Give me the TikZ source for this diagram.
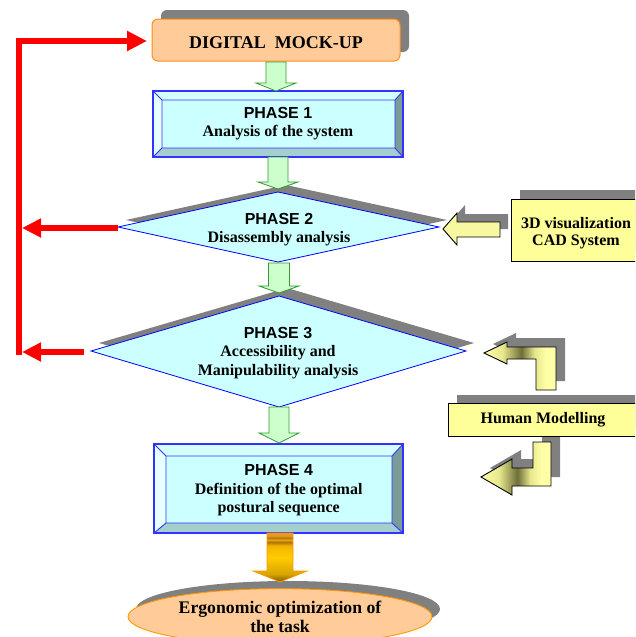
\documentclass[tikz,border=0pt]{standalone}
\usepackage{fontspec}
\setmainfont{Liberation Serif}
\newfontfamily\arialf{Liberation Sans}
\usetikzlibrary{arrows.meta,shapes.geometric}
\definecolor{shd}{HTML}{808080}
\definecolor{dmufill}{HTML}{FFCC99}
\definecolor{dmuline}{HTML}{FF8C1A}
\definecolor{grfill}{HTML}{CCFFCC}
\definecolor{grline}{HTML}{339933}
\definecolor{cyanfill}{HTML}{CCFFFF}
\definecolor{bluel}{HTML}{0000FF}
\definecolor{boxline}{HTML}{3333FF}
\definecolor{bvtop}{HTML}{D4FFFF}
\definecolor{bvleft}{HTML}{E8FFFF}
\definecolor{bvright}{HTML}{7A9C98}
\definecolor{bvbot}{HTML}{A3CFCF}
\definecolor{redc}{HTML}{FF0000}
\definecolor{yfill}{HTML}{FFFF99}
\definecolor{yarrow}{HTML}{F8F8A0}
\definecolor{gA}{HTML}{E89A20}
\definecolor{gB}{HTML}{A87010}
\definecolor{gC}{HTML}{F2B400}
\definecolor{gD}{HTML}{FFCC00}
\definecolor{gE}{HTML}{D8A400}
\definecolor{gF}{HTML}{7A5800}
\definecolor{lyA}{HTML}{FFFFA8}
\definecolor{lyB}{HTML}{E6E68C}
\definecolor{lyD}{HTML}{6E6E3A}
\definecolor{ergoline}{HTML}{FF9900}
\pgfdeclareverticalshading{goldshade}{100bp}{color(0bp)=(gF); color(25bp)=(gF); color(33bp)=(gE); color(50bp)=(gD); color(62bp)=(gC); color(66bp)=(gB); color(68bp)=(gC); color(70bp)=(gB); color(72bp)=(gA); color(75bp)=(gA); color(100bp)=(gA)}
\pgfdeclarehorizontalshading{lshade}{100bp}{color(0bp)=(lyA); color(25bp)=(lyA); color(38bp)=(lyB); color(51bp)=(lyD); color(60bp)=(lyB); color(68bp)=(lyA); color(75bp)=(lyA); color(100bp)=(lyA)}
\newcommand\garrow[6]{%
  \draw[greenarrow] ({#1-#2},#4) -- ({#1+#2},#4) -- ({#1+#2},#5) -- ({#1+#3},#5) -- (#1,#6) -- ({#1-#3},#5) -- ({#1-#2},#5) -- cycle;}
\newcommand\bevelbox[8]{%
  \fill[bvtop] (#1,#2) -- (#3,#2) -- (#7,#6) -- (#5,#6) -- cycle;
  \fill[bvleft] (#1,#2) -- (#5,#6) -- (#5,#8) -- (#1,#4) -- cycle;
  \fill[bvright] (#3,#2) -- (#3,#4) -- (#7,#8) -- (#7,#6) -- cycle;
  \fill[bvbot] (#1,#4) -- (#5,#8) -- (#7,#8) -- (#3,#4) -- cycle;
  \fill[cyanfill] (#5,#6) rectangle (#7,#8);
  \draw[boxline, line width=0.9pt] (#5,#6) rectangle (#7,#8)
     (#1,#2) -- (#5,#6) (#3,#2) -- (#7,#6) (#1,#4) -- (#5,#8) (#3,#4) -- (#7,#8);
  \draw[boxline, line width=1.4pt] (#1,#2) rectangle (#3,#4);}
\begin{document}
\begin{tikzpicture}[x=1pt,y=-1pt,line join=miter,
  greenarrow/.style={fill=grfill, draw=grline, line width=0.8pt},
  phasediam/.style={fill=cyanfill, draw=bluel, line width=0.8pt},
  redline/.style={draw=redc, line width=6pt},
  ybox/.style={fill=yfill, draw=black, line width=0.9pt},
  yarr/.style={draw=black, line width=0.9pt},
  txt/.style={inner sep=0pt, align=center, font=\fontsize{16}{18}\selectfont\bfseries}]
\useasboundingbox (0,0) rectangle (635,637);
\clip (0,0) rectangle (635,637);

% ---- shadows
\fill[shd, rounded corners=6pt] (161,10) rectangle (409,52);
\begin{scope}[shift={(8,-7)}]
  \fill[shd] (118,227) -- (278,192) -- (439,227) -- (278,262) -- cycle;
\end{scope}
\begin{scope}[shift={(8,-8)}]
  \fill[shd] (91,351) -- (279,296) -- (466,351) -- (279,407) -- cycle;
\end{scope}
\fill[shd] (520,190) rectangle (654,252);
\fill[shd] (457,395) rectangle (654,428);
\begin{scope}[shift={(8,-8)}]
  \fill[shd] (443,229) -- (457,213) -- (457,222) -- (500,222) -- (500,237) -- (457,237) -- (457,245) -- cycle;
\end{scope}
\begin{scope}[shift={(9,-9)}]
  \fill[shd] (484,353) -- (507,342) -- (507,347) -- (556,347) -- (556,390) -- (536,390) -- (536,359) -- (507,359) -- (507,364) -- cycle;
  \fill[shd] (481,477) -- (512,459) -- (512,468) -- (533,468) -- (533,442) -- (551,442) -- (551,486) -- (512,486) -- (512,495) -- cycle;
\end{scope}
\fill[shd] (288,609) ellipse [x radius=152pt, y radius=28pt];

% ---- digital mock-up
\node[draw=dmuline, fill=dmufill, rounded corners=6pt, line width=1pt,
  minimum width=248pt, minimum height=42pt, inner sep=0pt,
  text height=16.6pt, text depth=0pt,
  font=\fontsize{18}{20}\selectfont\bfseries] (dmu) at (276,40) {DIGITAL\ \ MOCK-UP};

% ---- phase 1
\bevelbox{153}{91}{403}{157}{162}{100}{395}{148}
\node[txt] (ph1) at (278,124) {{\arialf PHASE 1}\\Analysis of the system};

% ---- phase 2
\draw[phasediam] (118,227) -- (278,192) -- (439,227) -- (278,262) -- cycle;
\coordinate (p2W) at (118,228);
\node[txt] (ph2) at (279,230) {{\arialf PHASE 2}\\Disassembly analysis};

% ---- phase 3
\draw[phasediam] (91,351) -- (279,296) -- (466,351) -- (279,407) -- cycle;
\coordinate (p3W) at (84,352);
\node[txt, font=\fontsize{16}{18.7}\selectfont\bfseries] (ph3) at (278,353) {{\arialf PHASE 3}\\Accessibility and\\Manipulability analysis};

% ---- phase 4
\bevelbox{154}{444}{403}{533}{166}{456}{392}{523}
\node[txt, font=\fontsize{16}{18.3}\selectfont\bfseries] (ph4) at (278.7,490.4) {{\arialf PHASE 4}\\Definition of the optimal\\postural sequence};

% ---- ergonomic ellipse
\node[ellipse, draw=ergoline, fill=dmufill, line width=0.9pt, minimum width=304pt,
  minimum height=56pt, inner sep=0pt, align=center,
  font=\fontsize{17.7}{19}\selectfont\bfseries] (ergo) at (280,616.7) {Ergonomic optimization of\\the task};

% ---- yellow side boxes
\draw[ybox] (511,199) rectangle (645,261);
\node[txt, font=\fontsize{16}{17}\selectfont\bfseries] (cad) at (576,233) {3D visualization\\CAD System};
\draw[ybox] (448,403) rectangle (645,436);
\node[anchor=base, inner sep=0pt, font=\fontsize{16}{18}\selectfont\bfseries] (hum) at (543,423.3) {Human Modelling};

% ---- yellow block arrows
\draw[yarr, fill=yarrow] (443,229) -- (457,213) -- (457,222) -- (500,222) -- (500,237) -- (457,237) -- (457,245) -- cycle;
\draw[yarr, shading=lshade] (484,353) -- (507,342) -- (507,347) -- (556,347) -- (556,390) -- (536,390) -- (536,359) -- (507,359) -- (507,364) -- cycle;
\draw[yarr, shading=lshade] (481,477) -- (512,459) -- (512,468) -- (533,468) -- (533,442) -- (551,442) -- (551,486) -- (512,486) -- (512,495) -- cycle;

% ---- green arrows
\garrow{276}{10}{20}{62}{83}{91}
\garrow{278}{10}{20}{157}{182}{189}
\garrow{279}{10.5}{20}{263}{286}{293}
\garrow{279}{10}{20}{407}{433}{443}

% ---- gold arrow
\draw[draw=ergoline, line width=0.8pt, shading=goldshade] (267,533) -- (293,533) -- (293,571) -- (307,571) -- (280,582) -- (253,571) -- (267,571) -- cycle;

% ---- red feedback connectors
\coordinate (redBot) at (19,355);
\coordinate (redTop) at (19,41);
\coordinate (redTopTip) at (147,41);
\coordinate (red2tip) at (22,228);
\coordinate (red3tip) at (22,352);
\draw[redline, -{Triangle[length=20pt,width=19pt]}] (redBot) -- (redTop) -- (redTopTip);
\draw[redline, -{Triangle[length=19pt,width=18pt]}] (p2W) -- (red2tip);
\draw[redline, -{Triangle[length=19pt,width=18pt]}] (p3W) -- (red3tip);
\end{tikzpicture}
\end{document}
